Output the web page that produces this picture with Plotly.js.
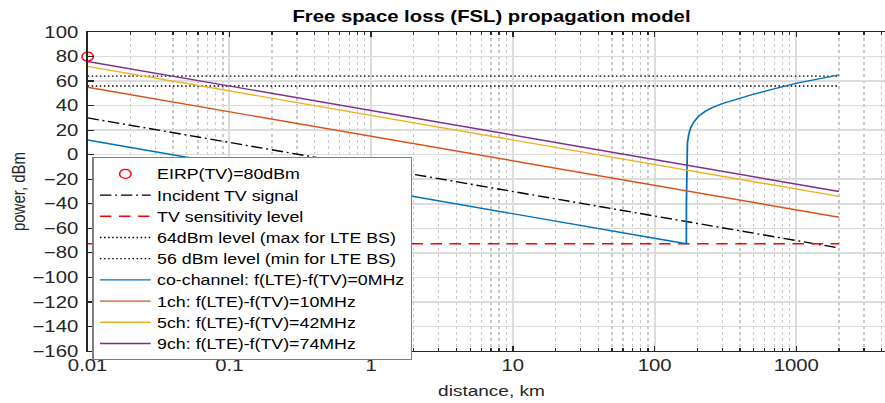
<!DOCTYPE html>
<html><head><meta charset="utf-8">
<script src="https://cdn.plot.ly/plotly-3.0.1.min.js"></script>
<style>
html,body{margin:0;padding:0;overflow:hidden;background:#fff;width:885px;height:403px}
#wrap{width:885px;height:403px;overflow:hidden;position:relative}
#plot{position:absolute;left:0;top:0;transform-origin:0 0;}
</style></head>
<body><div id="wrap"><div id="plot"></div></div>
<script>
// ---- data ----
const lineDist = [0.01, 2000];               // km, straight FSL lines
const eirpDist = [0.01];
const eirpPower = [80];
const incidentPower = [30, -76];
const sensitivityPower = [-72.6, -72.6];
const lte64Power = [64, 64];
const lte56Power = [56, 56];
const coDist  = [0.01, 167.6, 167.8, 168.3, 170.6, 174.3, 180, 189, 205, 229, 255, 300, 372, 488, 622, 992, 2000];
const coPower = [12, -72.6, -40, -4, 9.8, 16.5, 22, 26.6, 31.5, 35.5, 38.3, 41.6, 45.1, 48.9, 52.2, 58.1, 65];
const ch1Power = [55, -51];
const ch5Power = [72, -34];
const ch9Power = [76, -30];
const xTickVals = [0.01, 0.1, 1, 10, 100, 1000];
const xTickText = ['0.01', '0.1', '1', '10', '100', '1000'];
const yTickVals = [100, 80, 60, 40, 20, 0, -20, -40, -60, -80, -100, -120, -140, -160];

// ---- layout geometry (the reference is horizontally stretched) ----
const S = 1.27;             // horizontal stretch
const W = 900 / S;
const L = 87 / S;
const R = W - 895 / S;
document.getElementById('plot').style.transform = 'scaleX(' + S + ')';

const FONT = '"Liberation Sans", Arial, Helvetica, sans-serif';
const lw = 1.4;

const traces = [
  {x: eirpDist, y: eirpPower, mode: 'markers', name: 'EIRP(TV)=80dBm', cliponaxis: false,
   marker: {symbol: 'circle-open', size: 9, color: '#ff0000', line: {width: 1.2, color: '#ff0000'}}},
  {x: lineDist, y: incidentPower, mode: 'lines', name: 'Incident TV signal',
   line: {color: '#000000', width: lw, dash: '9px,3px,1.5px,3px'}},
  {x: lineDist, y: sensitivityPower, mode: 'lines', name: 'TV sensitivity level',
   line: {color: '#ff0000', width: lw, dash: '9px,6px'}},
  {x: lineDist, y: lte64Power, mode: 'lines', name: '64dBm level (max for LTE BS)',
   line: {color: '#000000', width: 1.3, dash: '1.2px,2px'}},
  {x: lineDist, y: lte56Power, mode: 'lines', name: '56 dBm level (min for LTE BS)',
   line: {color: '#000000', width: 1.3, dash: '1.2px,2px'}},
  {x: coDist, y: coPower, mode: 'lines', name: 'co-channel: f(LTE)-f(TV)=0MHz',
   line: {color: '#0072BD', width: lw}},
  {x: lineDist, y: ch1Power, mode: 'lines', name: '1ch: f(LTE)-f(TV)=10MHz',
   line: {color: '#D95319', width: lw}},
  {x: lineDist, y: ch5Power, mode: 'lines', name: '5ch: f(LTE)-f(TV)=42MHz',
   line: {color: '#EDB120', width: lw}},
  {x: lineDist, y: ch9Power, mode: 'lines', name: '9ch: f(LTE)-f(TV)=74MHz',
   line: {color: '#7E2F8E', width: lw}}
];

const axisCommon = {
  showline: true, linecolor: '#262626', linewidth: 1.2, mirror: 'allticks',
  ticks: 'inside', ticklen: 5, tickwidth: 1.2, tickcolor: '#262626',
  showgrid: true, gridcolor: '#dcdcdc', gridwidth: 1.5, zeroline: false,
  tickfont: {family: FONT, size: 16, color: '#262626'}
};

const layout = {
  width: W, height: 403,
  margin: {l: L, r: R, t: 32, b: 52},
  paper_bgcolor: '#ffffff', plot_bgcolor: '#ffffff',
  font: {family: FONT, size: 15, color: '#262626'},
  showlegend: true,
  title: {text: '<b>Free space loss (FSL) propagation model</b>', font: {family: FONT, size: 16, color: '#000000'},
          x: 0.5, xref: 'paper', xanchor: 'center', y: 1 - 16/403, yref: 'container', yanchor: 'middle'},
  xaxis: Object.assign({}, axisCommon, {
    type: 'log', range: [-2, Math.log10(5000)],
    tickmode: 'array', tickvals: xTickVals, ticktext: xTickText,
    minor: {dtick: 'D1', ticks: 'inside', ticklen: 3, tickwidth: 1, tickcolor: '#262626',
            showgrid: true, gridcolor: '#c8c8c8', gridwidth: 1, griddash: 'dot'},
    title: {text: 'distance, km', font: {family: FONT, size: 15, color: '#262626'}, standoff: 12}
  }),
  yaxis: Object.assign({}, axisCommon, {
    range: [-160, 100], tickmode: 'array', tickvals: yTickVals, ticklabelstandoff: 3,
    title: {text: 'power, dBm', font: {family: FONT, size: 15, color: '#262626'}, standoff: 1}
  }),
  legend: {x: (91.7 / S - L) / (W - L - R), xanchor: 'left', y: (351 - 157.3) / 319, yanchor: 'top',
           bgcolor: '#ffffff', bordercolor: '#7f7f7f', borderwidth: 1,
           font: {family: FONT, size: 14, color: '#000000'}, itemwidth: 40, tracegroupgap: 0}
};

Plotly.newPlot('plot', traces, layout, {displayModeBar: false, staticPlot: true});
</script>
</body></html>
